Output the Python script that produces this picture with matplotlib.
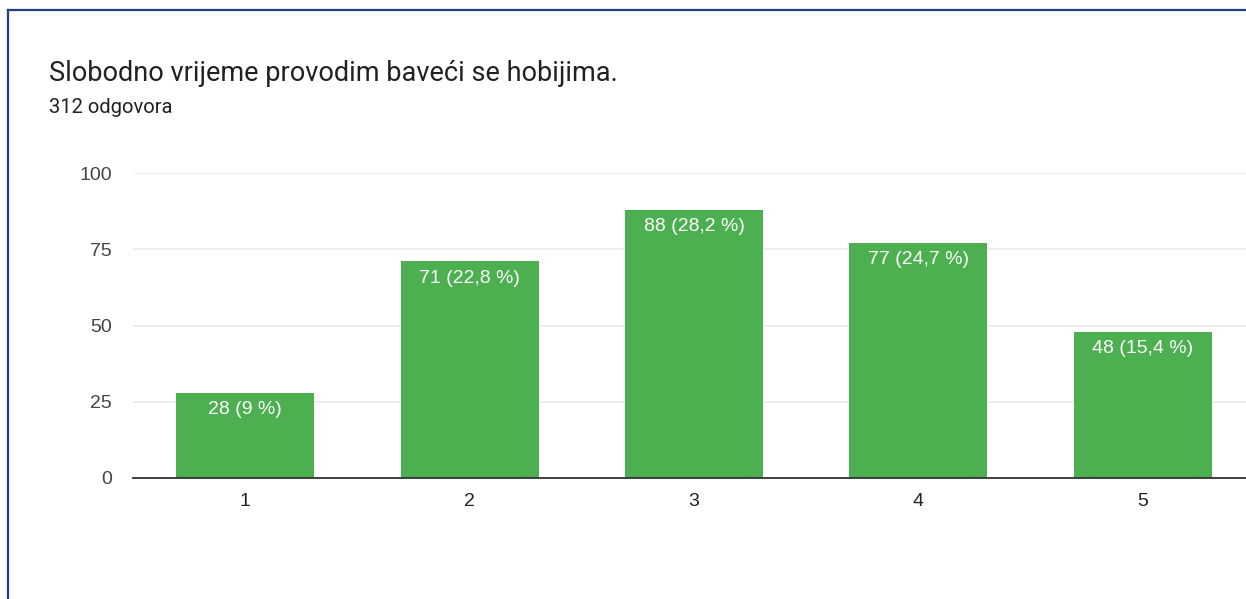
import matplotlib
matplotlib.use("Agg")
import matplotlib.pyplot as plt
from matplotlib.lines import Line2D

categories = ["1", "2", "3", "4", "5"]
counts = [28, 71, 88, 77, 48]
labels = ["28 (9 %)", "71 (22,8 %)", "88 (28,2 %)", "77 (24,7 %)", "48 (15,4 %)"]
yticks = [0, 25, 50, 75, 100]
title = "Slobodno vrijeme provodim baveći se hobijima."
subtitle = "312 odgovora"

W, H = 1246, 599
fig = plt.figure(figsize=(W / 100, H / 100), dpi=100)
fig.patch.set_facecolor("white")

# axes: left 133px, top 173px, bottom 478px, right ~1255px (beyond figure edge)
left, right, top, bottom = 133, 1255, 173, 478
ax = fig.add_axes([left / W, 1 - bottom / H, (right - left) / W, (bottom - top) / H])

x = list(range(1, len(categories) + 1))
bars = ax.bar(x, counts, width=0.615, color="#4caf50", zorder=3)
ax.set_xlim(0.5, 5.5)
ax.set_ylim(0, 100)
ax.set_yticks(yticks)
ax.set_xticks(x)
ax.set_xticklabels(categories)
ax.grid(axis="y", color="#ebebeb", linewidth=1.2, zorder=0)
for s in ["top", "right", "left"]:
    ax.spines[s].set_visible(False)
ax.spines["bottom"].set_color("#333333")
ax.spines["bottom"].set_linewidth(1.3)
ax.spines["bottom"].set_zorder(4)
ax.tick_params(axis="both", length=0)
ax.tick_params(axis="y", pad=15, labelsize=14, labelcolor="#444444")
ax.tick_params(axis="x", pad=11, labelsize=14, labelcolor="#222222")
for t in ax.get_xticklabels() + ax.get_yticklabels():
    t.set_fontfamily("Liberation Sans")

for b, lab in zip(bars, labels):
    ax.annotate(lab, (b.get_x() + b.get_width() / 2, b.get_height()),
                xytext=(0, -6), textcoords="offset points",
                ha="center", va="top", color="white", fontsize=14,
                family="Liberation Sans", zorder=5)

fig.text(49 / W, 1 - 81 / H, title, fontsize=19.5, family="Roboto",
         color="#202124", ha="left", va="baseline")
fig.text(49 / W, 1 - 113 / H, subtitle, fontsize=14.5, family="Roboto",
         color="#202124", ha="left", va="baseline")

# border lines (top and left)
border = "#1f3f7f"
fig.add_artist(Line2D([7.5 / W, 7.5 / W], [0, 1 - 10 / H], transform=fig.transFigure,
                      color=border, linewidth=1.6))
fig.add_artist(Line2D([7.5 / W, 1], [1 - 10 / H, 1 - 10 / H], transform=fig.transFigure,
                      color=border, linewidth=1.6))

fig.savefig("out.png", dpi=100)
